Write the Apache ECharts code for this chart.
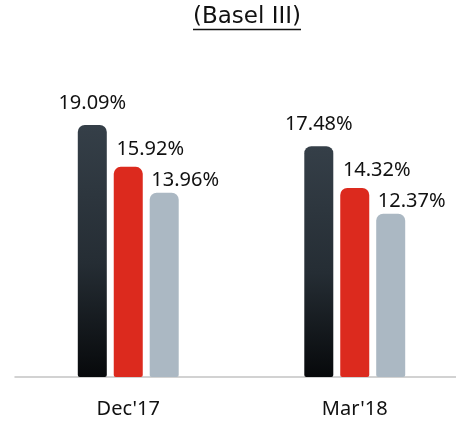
<!DOCTYPE html>
<html>
<head>
<meta charset="utf-8">
<script src="https://cdn.jsdelivr.net/npm/echarts@6/dist/echarts.min.js"></script>
<style>
  html, body { margin: 0; padding: 0; background: #ffffff; }
  #chart { width: 456px; height: 423px; }
</style>
</head>
<body>
<div id="chart"></div>
<script>
// Capital adequacy ratios (Basel III)
const categories = ["Dec'17", "Mar'18"];
const totalRatio = [19.09, 17.48];
const tier1Ratio = [15.92, 14.32];
const cet1Ratio = [13.96, 12.37];

const FONT = '"Noto Sans", sans-serif';

const chart = echarts.init(document.getElementById('chart'), null, { renderer: 'canvas' });

function labelStyle(offsetX, dist) {
  return {
    show: true,
    position: 'top',
    distance: dist,
    offset: [offsetX, 0],
    formatter: p => p.value.toFixed(2) + '%',
    fontFamily: FONT,
    fontSize: 20,
    color: '#111111'
  };
}

chart.setOption({
  animation: false,
  backgroundColor: '#ffffff',
  graphic: [
    {
      type: 'text',
      x: 247,
      y: 17,
      style: {
        text: '(Basel III)',
        font: '23px "DejaVu Sans", Verdana, sans-serif',
        fill: '#111111',
        align: 'center',
        verticalAlign: 'middle'
      }
    },
    {
      type: 'line',
      shape: { x1: 193, y1: 29.5, x2: 301, y2: 29.5 },
      style: { stroke: '#111111', lineWidth: 1.5 }
    }
  ],
  grid: {
    left: 15, top: 47, width: 453, height: 330,
    containLabel: false,
    outerBoundsMode: 'none'
  },
  xAxis: {
    type: 'category',
    data: categories,
    axisLine: { show: true, lineStyle: { color: '#c4c4c4', width: 1.5 } },
    axisTick: { show: false },
    axisLabel: { margin: 22, fontFamily: FONT, fontSize: 20, color: '#111111' }
  },
  yAxis: {
    type: 'value',
    min: 0,
    max: 25,
    show: false,
    splitLine: { show: false }
  },
  series: [
    {
      name: 'Total',
      type: 'bar',
      data: totalRatio,
      barWidth: 29,
      barGap: '24%',
      itemStyle: {
        borderRadius: [7, 7, 2, 2],
        color: new echarts.graphic.LinearGradient(0, 0, 0, 1, [
          { offset: 0, color: '#353f48' },
          { offset: 0.55, color: '#252d34' },
          { offset: 1, color: '#07090b' }
        ])
      },
      label: labelStyle(0, 12)
    },
    {
      name: 'Tier 1',
      type: 'bar',
      data: tier1Ratio,
      barWidth: 29,
      itemStyle: { borderRadius: [7, 7, 2, 2], color: '#dc2a1e' },
      label: labelStyle(22, 8)
    },
    {
      name: 'CET1',
      type: 'bar',
      data: cet1Ratio,
      barWidth: 29,
      itemStyle: { borderRadius: [7, 7, 2, 2], color: '#abb8c3' },
      label: labelStyle(21, 2)
    }
  ]
});
</script>
</body>
</html>
